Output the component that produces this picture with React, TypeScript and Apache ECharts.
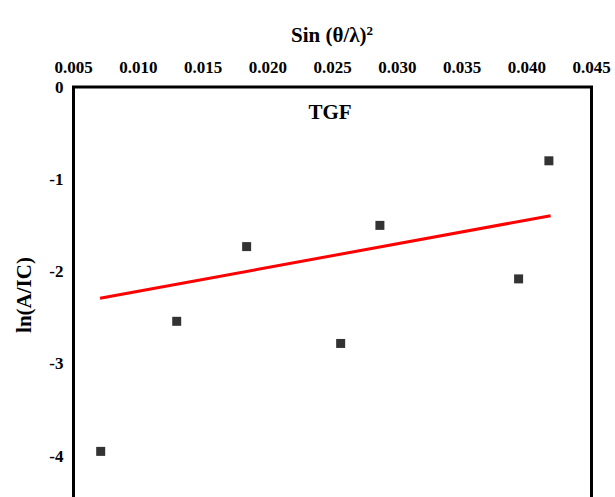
import React, { useEffect, useRef } from "react";
import * as echarts from "echarts";

// Scatter points: Sin(θ/λ)^2 vs ln(A/IC)
const xValues = [0.0071, 0.01297, 0.01837, 0.02563, 0.02866, 0.03937, 0.04171];
const yValues = [-3.95, -2.54, -1.73, -2.78, -1.5, -2.08, -0.8];

// Linear fit endpoints (red line)
const fitX = [0.00705, 0.04184];
const fitY = [-2.29, -1.395];

// Axis settings
const xMin = 0.005;
const xMax = 0.045;
const xStep = 0.005;
const yMin = -5;
const yMax = 0;
const yStep = 1;

const xTitle = "Sin (θ/λ)";
const xTitleSup = "2";
const yTitle = "ln(A/IC)";
const panelLabel = "TGF";

const FONT = '"Liberation Serif", "Times New Roman", serif';

export default function App() {
  const ref = useRef<HTMLDivElement>(null);

  useEffect(() => {
    if (!ref.current) return;
    const chart = echarts.init(ref.current, undefined, { renderer: "svg" });
    const points = xValues.map((x, i) => [x, yValues[i]]);
    const fit = fitX.map((x, i) => [x, fitY[i]]);

    chart.setOption({
      animation: false,
      backgroundColor: "#ffffff",
      grid: {
        left: 73.5,
        top: 87,
        width: 518,
        height: 461.25,
        show: true,
        borderColor: "#000000",
        borderWidth: 3,
        backgroundColor: "transparent",
      },
      xAxis: {
        type: "value",
        position: "top",
        min: xMin,
        max: xMax,
        interval: xStep,
        axisLine: { show: false },
        axisTick: { show: false },
        splitLine: { show: false },
        axisLabel: {
          margin: 11,
          color: "#000",
          fontFamily: FONT,
          fontWeight: "bold",
          fontSize: 17,
          formatter: (v: number) => v.toFixed(3),
        },
      },
      yAxis: {
        type: "value",
        min: yMin,
        max: yMax,
        interval: yStep,
        axisLine: { show: false },
        axisTick: { show: false },
        splitLine: { show: false },
        axisLabel: {
          margin: 10,
          color: "#000",
          fontFamily: FONT,
          fontWeight: "bold",
          fontSize: 17,
          showMinLabel: false,
          formatter: (v: number) => String(Math.round(v)),
        },
      },
      graphic: [
        {
          type: "text",
          x: 332,
          y: 35,
          style: {
            text: `${xTitle}{sup|${xTitleSup}}`,
            font: `bold 21px ${FONT}`,
            fill: "#000",
            align: "center",
            verticalAlign: "middle",
            textAlign: "center",
            textVerticalAlign: "middle",
            rich: {
              sup: {
                fontSize: 13,
                fontWeight: "bold",
                fontFamily: FONT,
                fill: "#000",
                verticalAlign: "top",
                padding: [0, 0, 10, 0],
              },
            },
          },
        },
        {
          type: "text",
          x: 24,
          y: 295,
          rotation: Math.PI / 2,
          style: {
            text: yTitle,
            font: `bold 21px ${FONT}`,
            fill: "#000",
            align: "center",
            verticalAlign: "middle",
            textAlign: "center",
            textVerticalAlign: "middle",
          },
        },
        {
          type: "text",
          x: 330,
          y: 112,
          style: {
            text: panelLabel,
            font: `bold 21px ${FONT}`,
            fill: "#000",
            align: "center",
            verticalAlign: "middle",
            textAlign: "center",
            textVerticalAlign: "middle",
          },
        },
      ],
      series: [
        {
          type: "line",
          data: fit,
          showSymbol: false,
          symbol: "none",
          lineStyle: { color: "#ff0000", width: 3 },
          z: 2,
        },
        {
          type: "scatter",
          data: points,
          symbol: "rect",
          symbolSize: 9,
          itemStyle: { color: "#000000" },
          z: 3,
        },
      ],
    });

    return () => chart.dispose();
  }, []);

  return (
    <div
      style={{
        position: "fixed",
        left: 0,
        top: 0,
        width: 615,
        height: 497,
        overflow: "hidden",
        background: "#fff",
      }}
    >
      <div ref={ref} style={{ width: 615, height: 570 }} />
    </div>
  );
}
